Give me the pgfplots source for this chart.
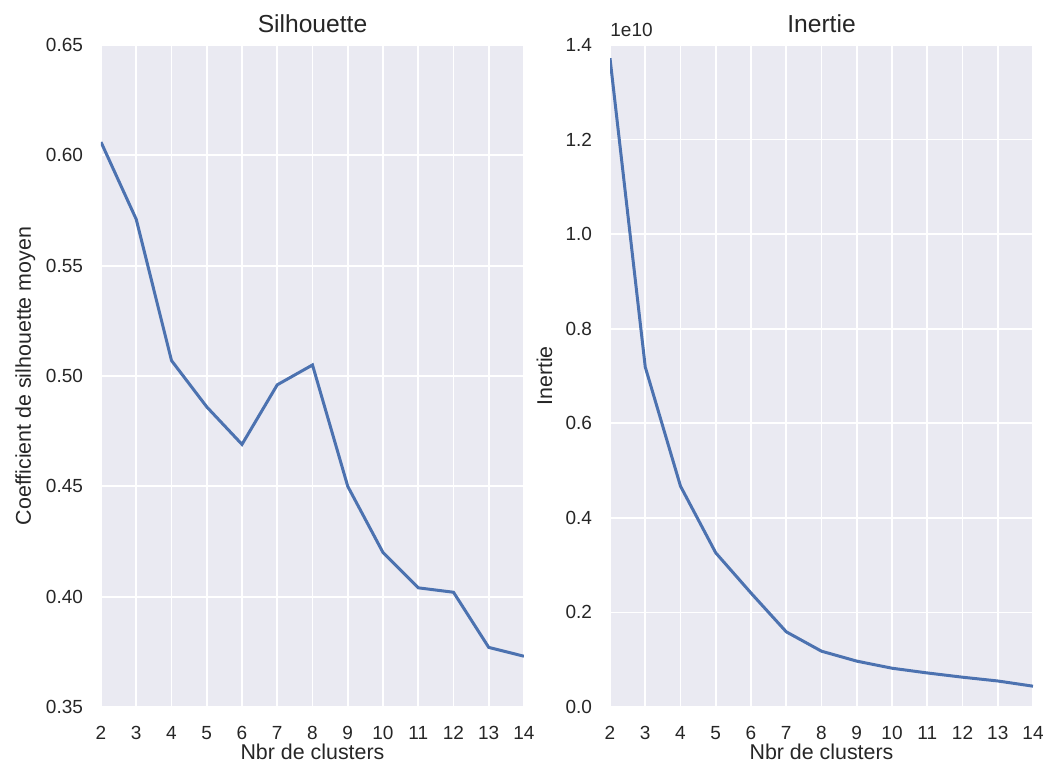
\documentclass[border=0pt]{standalone}
\usepackage{fontspec}
\setmainfont{Liberation Sans}
\usepackage{pgfplots}
\pgfplotsset{compat=1.18}

\definecolor{sbbg}{HTML}{EAEAF2}
\definecolor{sbblue}{HTML}{4C72B0}
\definecolor{sbtext}{HTML}{262626}

\pgfplotsset{
  sbstyle/.style={
    scale only axis,
    width=211.5pt, height=331pt,
    xmin=2, xmax=14,
    xtick={2,...,14},
    axis background/.style={fill=sbbg},
    axis line style={draw=none},
    tick style={draw=none},
    grid=major,
    major grid style={white, line width=0.9pt},
    clip mode=individual,
    font=\fontsize{9.5}{11}\selectfont\color{sbtext},
    /pgf/number format/assume math mode=true,
    xticklabel style={yshift=-6pt},
    yticklabel style={xshift=-5.5pt},
    label style={font=\fontsize{10.7}{12}\selectfont\color{sbtext}},
    title style={font=\fontsize{12.3}{14}\selectfont\color{sbtext},
      at={(axis description cs:0.5,1)}, anchor=base},
    xlabel style={at={(axis description cs:0.5,0)}, anchor=base, yshift=-26.5pt},
    ylabel style={at={(axis description cs:0,0.5)}, anchor=base},
    xlabel={Nbr de clusters},
  },
}

\begin{document}
\begin{tikzpicture}
\useasboundingbox (-50.5pt,-33.5pt) rectangle (472pt,353.5pt);

% Silhouette
\begin{axis}[sbstyle,
  at={(0pt,0pt)}, anchor=south west,
  ymin=0.35, ymax=0.65,
  ytick={0.35,0.40,...,0.66},
  yticklabel style={/pgf/number format/fixed, /pgf/number format/fixed zerofill, /pgf/number format/precision=2},
  title={Silhouette},
  ylabel={Coefficient de silhouette moyen},
  ylabel style={yshift=35pt},
]
\addplot[sbblue, line width=1.5pt] coordinates {
  (2,0.606) (3,0.571) (4,0.507) (5,0.486) (6,0.469) (7,0.496)
  (8,0.505) (9,0.450) (10,0.420) (11,0.404) (12,0.402) (13,0.377) (14,0.373)
};
\end{axis}

% Inertie (en unites de 1e10)
\begin{axis}[sbstyle,
  at={(254.5pt,0pt)}, anchor=south west,
  ymin=0, ymax=1.4,
  ytick={0,0.2,...,1.41},
  yticklabel style={/pgf/number format/fixed, /pgf/number format/fixed zerofill, /pgf/number format/precision=1},
  title={Inertie},
  ylabel={Inertie},
  ylabel style={yshift=29pt},
]
\addplot[sbblue, line width=1.5pt] coordinates {
  (2,1.372) (3,0.719) (4,0.467) (5,0.326) (6,0.241) (7,0.159)
  (8,0.118) (9,0.097) (10,0.082) (11,0.072) (12,0.063) (13,0.055) (14,0.044)
};
\node[anchor=base west, inner sep=0pt, font=\fontsize{9.5}{11}\selectfont\color{sbtext}]
  at (rel axis cs:0,1) [yshift=4pt] {1e10};
\end{axis}
\end{tikzpicture}
\end{document}
